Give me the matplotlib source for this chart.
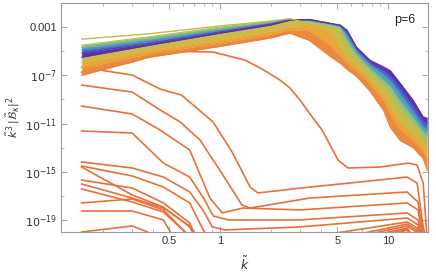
import numpy as np
import matplotlib
matplotlib.use("Agg")
import matplotlib.pyplot as plt
from matplotlib.ticker import FixedLocator, NullFormatter

plt.rcParams['font.family'] = ['Liberation Sans', 'DejaVu Sans']
plt.rcParams['mathtext.fontset'] = 'dejavusans'

# ---- early spectra (separated orange curves), values as log10 ----
arc_k = [0.15, 0.30, 0.44, 0.66, 0.91, 1.41, 1.78, 2.27, 2.61, 2.99, 3.47, 4.05,
         4.52, 5.04, 5.78, 8.97, 13.2, 14.9, 16.2, 17.1]
arc_y = [-6.73, -5.90, -5.07, -5.03, -5.07, -5.74, -6.48, -7.39, -8.06, -9.05, -10.3,
         -11.54, -12.78, -14.03, -14.69, -14.61, -14.28, -14.44, -15.94, -20.66]

o1_k = [0.15, 0.30, 0.44, 0.59, 0.91, 1.18, 1.51, 1.68, 3.43, 6.81, 13.0, 14.9, 16.2, 16.9]
o1_y = [-6.32, -6.98, -8.14, -8.64, -10.88, -13.37, -16.27, -16.76, -16.27, -15.85,
        -15.44, -15.94, -19.58, -20.66]

o2_k = [0.15, 0.30, 0.44, 0.58, 0.76, 1.04, 1.35, 1.51, 3.43, 13.0, 15.1, 16.4]
o2_y = [-7.81, -8.39, -9.88, -10.88, -12.37, -15.27, -17.76, -18.01, -17.18, -16.68,
        -17.51, -20.66]

o3_k = [0.15, 0.30, 0.44, 0.66, 0.87, 1.03, 1.37, 2.99, 13.0, 15.1, 16.2]
o3_y = [-9.55, -10.21, -11.54, -13.20, -17.18, -18.42, -18.01, -18.17, -17.59, -18.17, -20.66]

o4_k = [0.15, 0.30, 0.46, 0.66, 0.81, 0.91, 1.12, 2.99, 13.0, 15.1, 15.9]
o4_y = [-11.62, -11.79, -14.28, -15.44, -17.34, -18.67, -19.0, -19.0, -18.42, -19.0, -20.66]

l1_k = [0.15, 0.30, 0.46, 0.66, 0.79, 0.90, 1.07, 2.99, 13.0, 15.1, 15.7]
l1_y = [-14.19, -14.69, -15.44, -16.68, -18.17, -19.58, -19.83, -19.58, -18.84, -19.42, -20.66]

l2_k = [0.15, 0.30, 0.46, 0.66, 0.85, 4.52, 13.0, 14.9, 15.5]
l2_y = [-14.53, -15.35, -16.27, -17.59, -20.66, -20.16, -19.17, -19.67, -20.66]

l3_k = [0.15, 0.30, 0.46, 0.66, 0.74, 5.94, 13.0, 14.7, 15.2]
l3_y = [-14.61, -16.93, -17.93, -19.58, -20.66, -20.33, -19.34, -19.83, -20.66]

l4_k = [0.15, 0.30, 0.46, 0.66, 0.73, 6.81, 13.0, 14.7, 15.1]
l4_y = [-15.69, -16.35, -17.59, -19.25, -20.66, -20.33, -19.50, -20.0, -20.66]

l5_k = [0.15, 0.30, 0.46, 0.66, 0.72, 7.81, 13.0, 14.5]
l5_y = [-16.02, -17.18, -18.01, -19.50, -20.66, -20.33, -19.67, -20.66]

l6_k = [0.15, 0.30, 0.46, 0.62, 0.66, 8.97, 13.0, 14.3]
l6_y = [-16.43, -17.51, -18.34, -20.0, -20.66, -20.33, -19.75, -20.66]

l7_k = [0.15, 0.30, 0.46, 0.62, 0.65, 10.3, 13.0, 14.1]
l7_y = [-17.59, -17.26, -18.17, -20.0, -20.66, -20.33, -19.83, -20.66]

l8_k = [0.15, 0.30, 0.46, 0.54, 11.0, 13.0, 13.9]
l8_y = [-18.26, -18.26, -19.0, -20.66, -20.33, -20.08, -20.66]

l9_k = [0.15, 0.30, 0.37, 0.39]
l9_y = [-20.0, -19.5, -20.0, -20.66]

early_curves = [(arc_k, arc_y), (o1_k, o1_y), (o2_k, o2_y), (o3_k, o3_y), (o4_k, o4_y),
                (l1_k, l1_y), (l2_k, l2_y), (l3_k, l3_y), (l4_k, l4_y), (l5_k, l5_y),
                (l6_k, l6_y), (l7_k, l7_y), (l8_k, l8_y), (l9_k, l9_y)]

# ---- later spectra (coloured band), early -> late, log10 values ----
band_k = [0.15, 0.38, 1.0, 2.0, 2.6, 3.4, 4.5, 5.2, 5.7, 6.5, 7.8, 9.4, 10.3, 11.8, 14.1, 16.2, 17.1]
band_orange = [-7.0, -5.5, -4.6, -3.9, -3.5, -4.1, -5.4, -6.0, -6.5, -7.1, -8.3, -9.9, -11.3,
               -12.4, -13.0, -13.9, -14.9]
band_amber = [-6.4, -5.2, -4.3, -3.6, -3.2, -3.3, -4.5, -5.4, -6.0, -6.6, -7.7, -9.1, -10.2,
              -11.5, -12.4, -13.3, -14.0]
band_gold = [-5.9, -4.9, -4.0, -3.3, -2.9, -2.85, -3.3, -4.6, -5.5, -6.2, -7.3, -8.6, -9.5,
             -10.8, -11.9, -12.8, -13.3]
band_olive = [-4.0, -3.55, -2.9, -2.5, -2.3, -2.7, -3.0, -3.5, -4.9, -5.8, -6.9, -8.1, -8.8,
              -10.1, -11.4, -12.3, -12.8]
band_lime = [-4.5, -3.8, -3.0, -2.55, -2.33, -2.55, -2.85, -3.2, -4.5, -5.5, -6.7, -7.8, -8.4,
             -9.7, -11.0, -12.0, -12.4]
band_green = [-4.7, -4.0, -3.15, -2.6, -2.36, -2.48, -2.75, -3.0, -4.0, -5.2, -6.4, -7.4, -7.9,
              -9.1, -10.5, -11.6, -12.0]
band_blue = [-4.9, -4.2, -3.3, -2.7, -2.39, -2.43, -2.72, -2.9, -3.6, -4.95, -6.1, -6.9, -7.4,
             -8.5, -10.0, -11.2, -11.5]
band_indigo = [-5.15, -4.35, -3.4, -2.75, -2.41, -2.39, -2.69, -2.86, -3.4, -4.8, -5.9, -6.6,
               -7.0, -8.05, -9.5, -10.8, -11.0]
band_purple = [-5.5, -4.5, -3.5, -2.83, -2.43, -2.36, -2.67, -2.83, -3.25, -4.66, -5.74, -6.3,
               -6.6, -7.64, -9.05, -10.46, -10.55]

stack = [band_orange, band_amber, band_gold, band_lime, band_green, band_blue, band_indigo, band_purple]
stack_lines = ['#E9803A', '#EB9A3A', '#DDB13E', '#A8C264', '#70B496', '#4B86C8', '#4A4AC0', '#6E2A9C']
stack_fills = ['#EA8A3A', '#E6A83C', '#C8BC4A', '#96C078', '#55A0B8', '#4268CC', '#5A30B0']

x_ticks = [0.5, 1, 5, 10]
x_labels = ['0.5', '1', '5', '10']
x_minor = [0.2, 0.3, 0.4, 0.6, 0.7, 0.8, 0.9, 2, 3, 4, 6, 7, 8, 9]
y_ticks = [1e-3, 1e-7, 1e-11, 1e-15, 1e-19]
y_labels = ['0.001', r'$10^{-7}$', r'$10^{-11}$', r'$10^{-15}$', r'$10^{-19}$']
y_minor = [1e-1, 1e-5, 1e-9, 1e-13, 1e-17]

fig = plt.figure(figsize=(4.36, 2.74), dpi=100)
ax = fig.add_axes([61 / 436, 42 / 274, 367 / 436, 229 / 274])
ax.set_xscale('log')
ax.set_yscale('log')

# early curves first, band drawn on top (later times)
for k, y in early_curves:
    ax.plot(k, 10.0 ** np.array(y), color='#E8703A', lw=1.2, zorder=2)

kb = np.array(band_k)
for i in range(len(stack) - 1):
    lo = 10.0 ** np.array(stack[i])
    hi = 10.0 ** np.array(stack[i + 1])
    ax.fill_between(kb, lo, hi, color=stack_fills[i], lw=0, zorder=3)
for y, c in zip(stack, stack_lines):
    ax.plot(kb, 10.0 ** np.array(y), color=c, lw=0.8, zorder=4)
ax.plot(kb, 10.0 ** np.array(band_olive), color='#C4BA48', lw=1.0, zorder=4)

ax.set_xlim(0.113, 17.3)
ax.set_ylim(1e-20, 10 ** -1.0)

ax.xaxis.set_major_locator(FixedLocator(x_ticks))
ax.set_xticklabels(x_labels)
ax.xaxis.set_minor_locator(FixedLocator(x_minor))
ax.xaxis.set_minor_formatter(NullFormatter())
ax.yaxis.set_major_locator(FixedLocator(y_ticks))
ax.set_yticklabels(y_labels)
ax.yaxis.set_minor_locator(FixedLocator(y_minor))
ax.yaxis.set_minor_formatter(NullFormatter())

ax.tick_params(which='both', direction='in', top=True, right=True, color='#999999',
               labelsize=8, labelcolor='#333333', pad=3)
ax.tick_params(which='major', length=4, width=0.6)
ax.tick_params(which='minor', length=2, width=0.5)
for s in ax.spines.values():
    s.set_color('#999999')
    s.set_linewidth(0.8)

ax.set_xlabel(r'$\tilde{k}$', fontsize=9, color='#333333', labelpad=7)
ax.set_ylabel(r'$\tilde{k}^{\,3}\,|\tilde{\mathcal{B}}_{\kappa}|^{2}$', fontsize=8, color='#333333')
ax.yaxis.set_label_coords(-0.105, 0.5)
ax.text(0.937, 0.926, 'p=6', transform=ax.transAxes, fontsize=9, ha='center', va='center',
        color='#222222')

fig.savefig('out.png', dpi=100)
